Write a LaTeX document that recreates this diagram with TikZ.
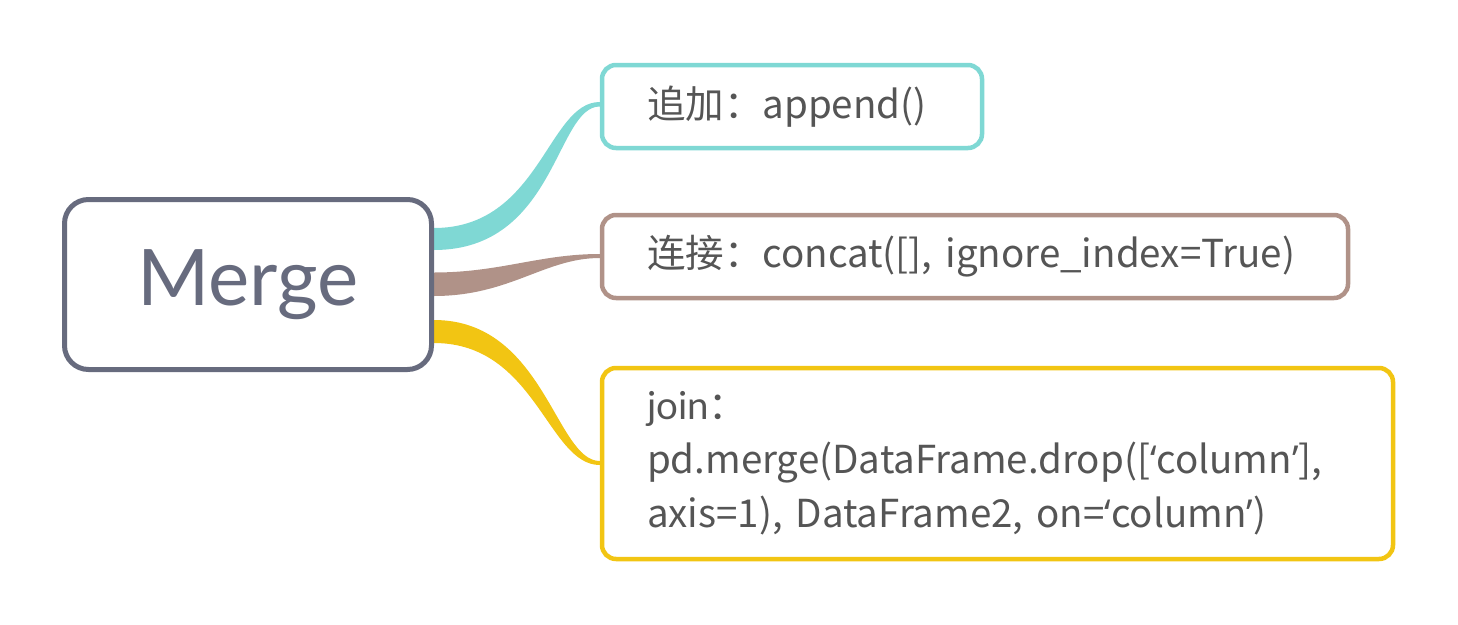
\documentclass[tikz,border=0pt]{standalone}
\usepackage{fontspec}
\setmainfont{Lato}
\newfontfamily\cjk{Noto Sans CJK SC}
\newfontfamily\qfont{Open Sans}
\newcommand\qopen{{\qfont ‘}}
\newcommand\qclose{{\qfont ’}}
\usetikzlibrary{calc,backgrounds}
\definecolor{S}{RGB}{103, 107, 126}
\definecolor{T}{RGB}{127, 216, 212}
\definecolor{Br}{RGB}{176, 146, 136}
\definecolor{Y}{RGB}{242, 197, 19}
\definecolor{txt}{RGB}{85, 85, 85}
\tikzset{
  mainbox/.style={draw=S, line width=5pt, rounded corners=24pt, fill=white,
    minimum width=367pt, minimum height=170pt, text=S,
    font=\fontsize{78}{90}\selectfont},
  leafbox/.style={line width=4.5pt, rounded corners=14pt, fill=white,
    inner xsep=45pt, align=left, minimum height=83pt, text=txt,
    font=\fontsize{38.5}{54}\selectfont}
}

\begin{document}
\begin{tikzpicture}[x=1pt, y=-1pt]
  \useasboundingbox (0,0) rectangle (1458,624);

  % nodos
  \node[mainbox] (merge) at (248,284.5) {Merge};
  \node[leafbox, draw=T, text width=290pt] (append) at (792,106.5) {\cjk{追加：}append()};
  \node[leafbox, draw=Br, text width=656pt] (concat) at (975,256.5) {\cjk{连接：}concat([], ignore\_index=True)};
  \node[leafbox, draw=Y, text width=701pt, minimum height=191pt] (join) at (997.5,463.5)
    {join\cjk{：}\\pd.merge(DataFrame.drop([\qopen column\qclose],\\axis=1), DataFrame2, on=\qopen column\qclose)};

  % ramas, debajo de las cajas
  \begin{pgfonlayer}{background}
    %rama append
    \fill[T] ($(merge.east)+(0,-56.5)$) .. controls ($(merge.east)+(106,-56.5)$) and ($(append.west)+(-52,-4.5)$) .. ($(append.west)+(0,-4.5)$)
      -- ($(append.west)+(0,0)$) .. controls ($(append.west)+(-44,0)$) and ($(merge.east)+(122,-34.5)$) .. ($(merge.east)+(0,-34.5)$) -- cycle;
    %rama concat
    \fill[Br] ($(merge.east)+(0,-12)$) .. controls ($(merge.east)+(66,-12)$) and ($(concat.west)+(-60,-2.5)$) .. ($(concat.west)+(0,-2.5)$)
      -- ($(concat.west)+(0,1.5)$) .. controls ($(concat.west)+(-55,1.5)$) and ($(merge.east)+(76,11.5)$) .. ($(merge.east)+(0,11.5)$) -- cycle;
    %rama join
    \fill[Y] ($(merge.east)+(0,35.5)$) .. controls ($(merge.east)+(110,35.5)$) and ($(join.west)+(-44,-2.5)$) .. ($(join.west)+(0,-2.5)$)
      -- ($(join.west)+(0,1.5)$) .. controls ($(join.west)+(-52,1.5)$) and ($(merge.east)+(102,58.5)$) .. ($(merge.east)+(0,58.5)$) -- cycle;
  \end{pgfonlayer}
\end{tikzpicture}
\end{document}
